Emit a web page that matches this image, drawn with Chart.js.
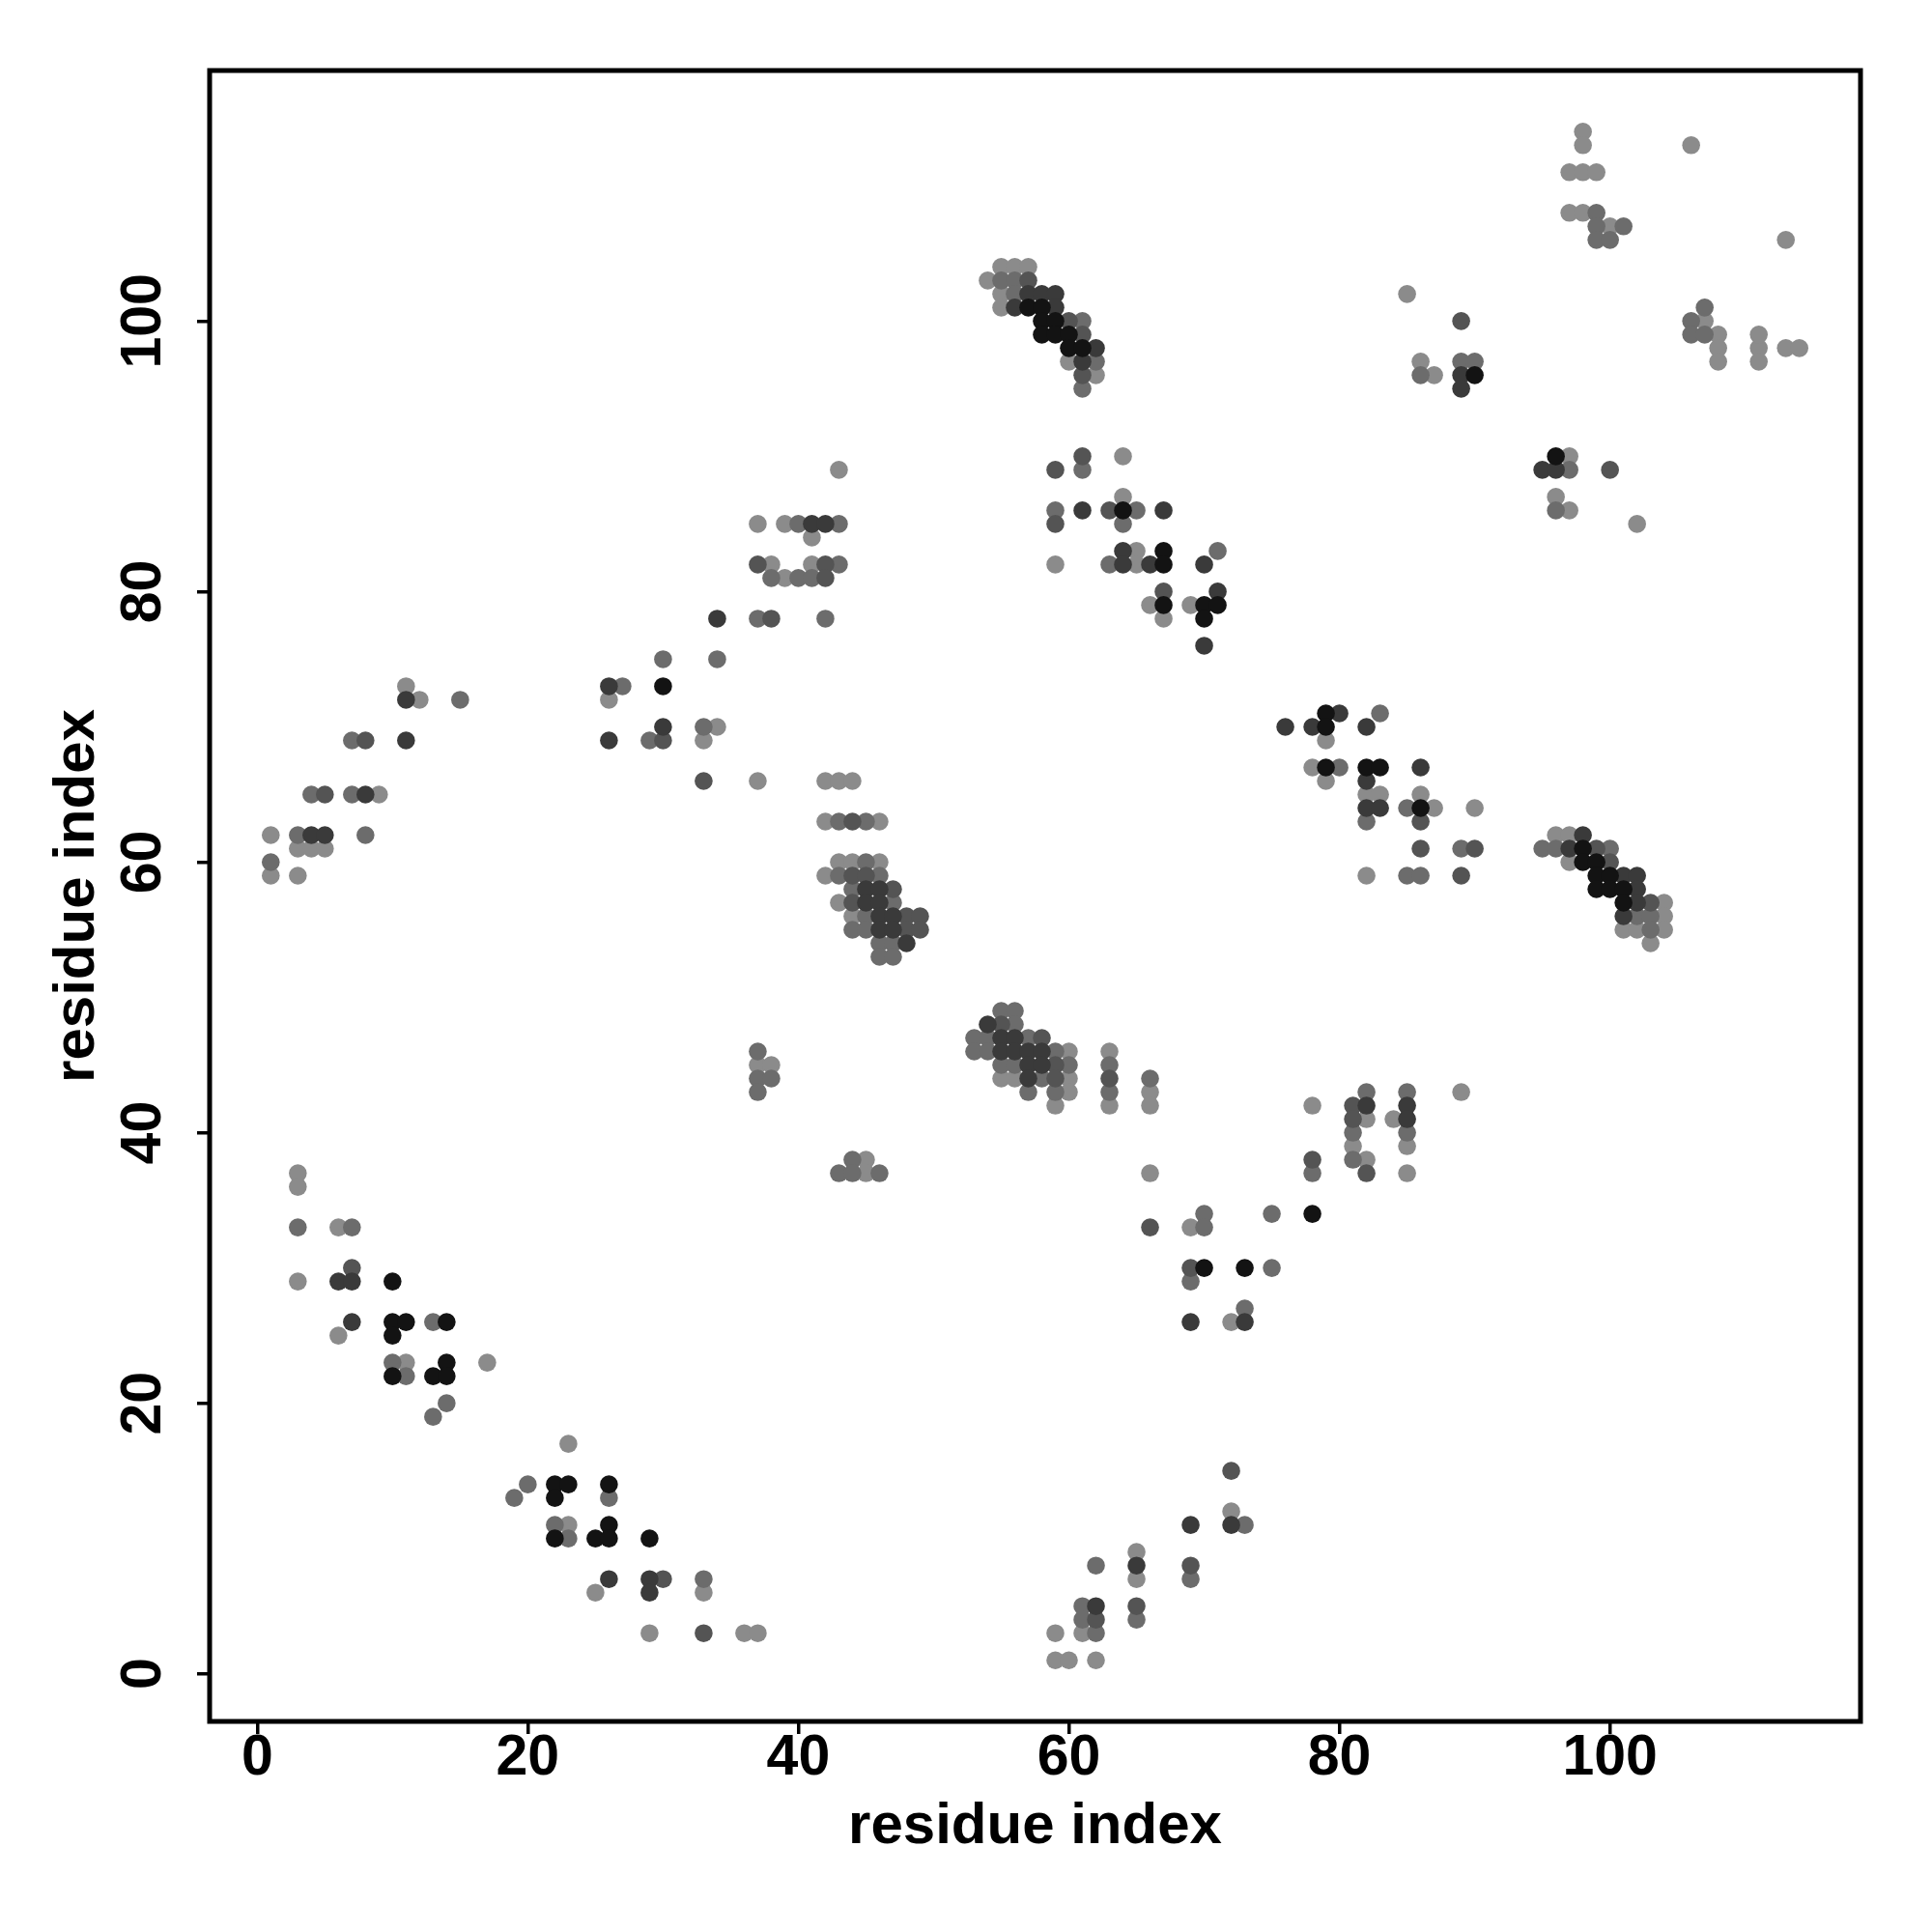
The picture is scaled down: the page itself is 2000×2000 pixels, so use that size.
<!DOCTYPE html>
<html>
<head>
<meta charset="utf-8">
<title>residue contact map</title>
<script src="https://cdn.jsdelivr.net/npm/chart.js@4.4.1/dist/chart.umd.min.js"></script>
<style>
    html, body { margin: 0; padding: 0; background: #fff; }
    #wrap { width: 2000px; height: 2000px; }
</style>
</head>
<body>
<div id="wrap"><canvas id="contactChart" width="2000" height="2000"></canvas></div>
<script>
// axis setup
const axisMin = -3.52;
const axisMax = 118.52;
const tickValues = [0, 20, 40, 60, 80, 100];
const axisTitle = 'residue index';

// contacts [i, j], grouped by grey level (darkest first)
const blackPts = [
    [57,101],[58,101],[58,100],[59,100],[58,99],[59,99],[60,99],[60,98],[61,98],
    [90,96],[96,90],[30,73],
    [64,86],[67,83],[67,82],[67,79],[70,79],[71,79],[70,78],
    [79,71],[79,70],[79,67],[82,67],[83,67],[86,64],[98,61],[98,60],[99,60],[99,59],[100,59],
    [10,29],[78,34],[70,30],[73,30],
    [99,58],[100,58],[101,58],[101,57],
    [10,26],[11,26],[14,26],[10,25],[14,23],[10,22],[13,22],[14,22],
    [22,14],[23,14],[26,14],[22,13],[26,11],[22,10],[25,10],[26,10],[29,10]
];
const darkPts = [
    [57,102],[58,102],[59,102],[56,101],[59,101],[62,98],[61,97],
    [89,96],[89,95],[95,89],[96,89],
    [34,78],[26,73],[30,70],[26,69],[11,72],[11,69],[8,65],[4,62],[5,62],
    [61,86],[67,86],[64,83],[64,82],[66,82],[70,82],[71,80],[70,76],[41,85],[42,85],
    [76,70],[78,70],[80,71],[82,70],[86,67],[82,66],[82,64],[83,64],[97,61],[98,62],[101,59],[102,59],
    [6,29],[7,29],
    [45,58],[46,58],[45,57],[46,57],[46,56],[47,56],[46,55],[47,55],[48,54],
    [54,48],[55,47],[56,47],[55,46],[56,46],[57,46],[58,46],[57,45],[58,45],[57,44],
    [102,58],[102,57],[101,56],[82,42],[85,42],[85,41],
    [7,26],[26,7],[29,7],[29,6],
    [69,26],[73,26],[69,11],[72,11],[65,8],[62,5]
];
const midDarkPts = [
    [57,103],[60,100],[61,99],[61,96],[59,89],[61,90],
    [89,100],[100,89],
    [37,82],[30,69],[33,66],[8,69],[5,65],
    [63,86],[59,85],[67,80],[42,82],[42,81],[38,78],[44,63],[44,59],[45,59],
    [86,63],[86,61],[90,61],[99,61],[100,60],[89,59],
    [7,30],
    [47,58],[44,57],[48,56],[49,56],[48,55],[49,55],[55,48],[58,47],[59,45],[59,44],[63,44],[66,33],[78,38],[69,30],
    [103,57],[81,42],[81,41],[82,37],
    [30,7],[33,3],
    [72,15],[69,8],[65,5],[62,4]
];
const midPts = [
    [55,103],[56,103],[56,102],[61,100],[62,97],[61,95],[61,89],
    [99,108],[99,107],[101,107],[99,106],[100,106],[89,97],[90,97],[86,96],
    [107,101],[106,100],[106,99],[107,99],[97,89],
    [37,78],[30,75],[34,75],[27,73],[29,69],[33,70],[15,72],[7,69],[4,65],[7,65],[3,62],[8,62],[1,60],
    [59,86],[65,86],[64,85],[71,83],[63,82],[40,85],[43,85],[43,82],[38,81],[40,81],[41,81],[42,78],
    [43,63],[45,63],[45,60],[43,59],[46,59],
    [83,71],[80,67],[85,64],[82,63],[89,61],[95,61],[96,61],[100,61],[85,59],[86,59],[96,86],
    [37,46],[37,44],[37,43],[3,33],[7,33],
    [44,58],[47,57],[45,56],[44,55],[45,55],[46,54],[47,54],[46,53],[47,53],[55,49],[56,49],[56,48],
    [53,47],[54,47],[57,47],[53,46],[54,46],[59,46],[55,45],[56,45],[60,45],[58,44],[57,43],[59,43],
    [63,45],[63,43],[66,44],[38,44],[44,38],[43,37],[44,37],[46,37],[78,37],
    [70,34],[70,33],[75,34],[75,30],[69,29],
    [102,56],[103,56],[103,55],[82,43],[85,43],[81,40],[85,40],[81,38],
    [13,26],[10,23],[11,22],[14,20],[13,19],[20,14],[19,13],[26,13],[22,11],[23,10],[33,7],
    [73,27],[73,11],[62,8],[69,7],[61,5],[61,4],[65,4],[62,3]
];
const lightPts = [
    [55,104],[56,104],[57,104],[54,103],[55,102],[55,101],[60,97],[62,96],[43,89],[64,90],
    [98,114],[98,113],[106,113],[97,111],[98,111],[99,111],[97,108],[98,108],[100,107],[113,106],
    [85,102],[86,97],[87,96],[107,100],[108,99],[108,98],[111,98],[113,98],[114,98],[111,99],
    [108,97],[111,97],[97,90],
    [37,85],[26,72],[34,70],[33,69],[37,66],[11,73],[12,72],[9,65],[1,62],[3,61],[4,61],[5,61],[1,59],[3,59],
    [64,87],[65,83],[59,82],[65,82],[66,79],[69,79],[67,78],[39,85],[41,84],[38,82],[41,82],[39,81],
    [42,66],[43,66],[44,66],[42,63],[46,63],[43,60],[44,60],[46,60],[42,59],
    [79,69],[78,67],[79,66],[82,65],[83,65],[86,65],[87,64],[90,64],[96,62],[97,62],[97,60],[82,59],
    [96,87],[97,86],[102,85],
    [37,45],[3,37],[3,36],[6,33],[3,29],
    [43,57],[44,56],[60,46],[55,44],[56,44],[60,44],[60,43],[59,42],[63,46],[63,42],[66,43],[66,42],
    [66,37],[38,45],[45,38],[45,37],[78,42],[69,33],
    [104,57],[104,56],[101,55],[102,55],[104,55],[103,54],[89,43],[82,41],[84,41],[81,39],[85,39],[82,38],[85,37],
    [6,25],[11,23],[17,23],[23,17],[23,11],[25,6],[33,6],[29,3],[36,3],[37,3],
    [72,26],[72,12],[65,9],[65,7],[59,3],[61,3],[59,1],[60,1],[62,1]
];

const FONT = '"Liberation Sans", Arial, Helvetica, sans-serif';

function toXY(pts) {
    return pts.map(p => ({ x: p[0], y: p[1] }));
}

function makeSet(label, pts, color) {
    return {
        label: label,
        data: toXY(pts),
        backgroundColor: color,
        borderWidth: 0,
        pointRadius: 9.3,
        pointHoverRadius: 9.3
    };
}

// box round the plot plus the rotated y tick labels
const framePlugin = {
    id: 'frame',
    afterDatasetsDraw(chart) {
        const { ctx, chartArea: a, scales } = chart;
        ctx.save();
        ctx.strokeStyle = '#000';
        ctx.lineWidth = 5;
        ctx.strokeRect(a.left, a.top, a.right - a.left, a.bottom - a.top);

        ctx.fillStyle = '#000';
        ctx.font = 'bold 59px ' + FONT;
        ctx.textAlign = 'center';
        ctx.textBaseline = 'middle';
        tickValues.forEach(v => {
            const py = scales.y.getPixelForValue(v);
            ctx.save();
            ctx.translate(a.left - 67, py);
            ctx.rotate(-Math.PI / 2);
            ctx.fillText(String(v), 0, 0);
            ctx.restore();
        });
        ctx.restore();
    }
};

const tickGrid = {
    display: true,
    drawOnChartArea: false,
    drawTicks: true,
    tickLength: 13,
    color: '#000',
    lineWidth: 3.5
};

const ctx = document.getElementById('contactChart').getContext('2d');
new Chart(ctx, {
    type: 'scatter',
    data: {
        datasets: [
            makeSet('black', blackPts, '#131313'),
            makeSet('dark', darkPts, '#3a3a3a'),
            makeSet('mid-dark', midDarkPts, '#545454'),
            makeSet('mid', midPts, '#6c6c6c'),
            makeSet('light', lightPts, '#8b8b8b')
        ]
    },
    options: {
        responsive: false,
        animation: false,
        devicePixelRatio: 1,
        layout: { padding: { top: 73, right: 74, bottom: 0, left: 0 } },
        plugins: {
            legend: { display: false },
            tooltip: { enabled: false }
        },
        scales: {
            x: {
                type: 'linear',
                min: axisMin,
                max: axisMax,
                afterBuildTicks: scale => { scale.ticks = tickValues.map(v => ({ value: v })); },
                afterFit: scale => { scale.height = 218; },
                grid: tickGrid,
                border: { display: false },
                ticks: {
                    color: '#000',
                    padding: -4,
                    maxRotation: 0,
                    font: { family: FONT, size: 59, weight: 'bold', lineHeight: 1 }
                },
                title: {
                    display: true,
                    text: axisTitle,
                    color: '#000',
                    padding: { top: 0, bottom: 73 },
                    font: { family: FONT, size: 60, weight: 'bold', lineHeight: 1.2 }
                }
            },
            y: {
                type: 'linear',
                min: axisMin,
                max: axisMax,
                afterBuildTicks: scale => { scale.ticks = tickValues.map(v => ({ value: v })); },
                afterFit: scale => { scale.width = 217; },
                grid: tickGrid,
                border: { display: false },
                ticks: { display: false },
                title: {
                    display: true,
                    text: axisTitle,
                    color: '#000',
                    padding: { top: 44, bottom: 0 },
                    font: { family: FONT, size: 60, weight: 'bold', lineHeight: 1.2 }
                }
            }
        }
    },
    plugins: [framePlugin]
});
</script>
</body>
</html>
